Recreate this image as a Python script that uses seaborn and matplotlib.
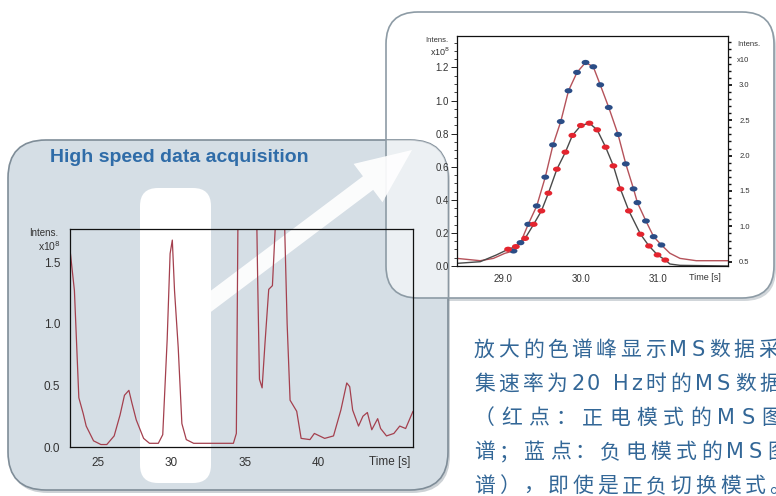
import matplotlib
matplotlib.use("Agg")
import matplotlib.pyplot as plt
import seaborn as sns
from matplotlib.patches import FancyBboxPatch, FancyArrow
from matplotlib.path import Path
from matplotlib.transforms import Affine2D
from matplotlib.ticker import MultipleLocator, FixedLocator, FormatStrFormatter

# Overview chromatogram (time [s], intensity x1e8)
tic_time = [23.13, 23.4, 23.7, 24.0, 24.2, 24.7, 25.2, 25.6, 26.1, 26.5, 26.8, 27.1,
            27.3, 27.6, 28.1, 28.5, 29.1, 29.4, 29.7, 29.9, 30.05, 30.2, 30.45, 30.7,
            31.0, 31.5, 32.8, 33.7, 34.2, 34.4, 34.55, 35.7, 35.85, 35.97, 36.15, 36.35,
            36.6, 36.85, 37.05, 37.15, 37.55, 37.7, 37.85, 38.05, 38.5, 38.8, 39.4, 39.7,
            40.05, 40.4, 41.0, 41.5, 41.9, 42.1, 42.3, 42.7, 43.0, 43.3, 43.6, 44.0,
            44.2, 44.6, 45.1, 45.5, 45.9, 46.4]
tic_int = [1.57, 1.27, 0.40, 0.27, 0.17, 0.05, 0.02, 0.02, 0.09, 0.26, 0.42, 0.46,
           0.36, 0.22, 0.07, 0.03, 0.03, 0.10, 0.87, 1.57, 1.68, 1.27, 0.81, 0.19,
           0.06, 0.03, 0.03, 0.03, 0.03, 0.11, 2.5, 2.5, 1.35, 0.55, 0.48, 0.85,
           1.28, 1.31, 1.8, 2.5, 2.5, 1.7, 1.0, 0.38, 0.29, 0.07, 0.06, 0.11,
           0.09, 0.07, 0.09, 0.30, 0.52, 0.49, 0.30, 0.17, 0.25, 0.28, 0.14, 0.23,
           0.15, 0.09, 0.11, 0.17, 0.15, 0.29]

# Zoomed peak: positive mode scans (red dots)
pos_time = [29.06, 29.16, 29.28, 29.39, 29.49, 29.58, 29.69, 29.80, 29.89, 30.00,
            30.11, 30.21, 30.32, 30.42, 30.51, 30.62, 30.77, 30.88, 30.99, 31.09]
pos_int = [0.101, 0.117, 0.167, 0.252, 0.333, 0.440, 0.585, 0.688, 0.789, 0.849,
           0.863, 0.823, 0.718, 0.605, 0.466, 0.333, 0.192, 0.121, 0.067, 0.036]
# negative mode scans (blue dots)
neg_time = [29.13, 29.22, 29.32, 29.43, 29.54, 29.64, 29.74, 29.84, 29.95, 30.06,
            30.16, 30.25, 30.36, 30.48, 30.58, 30.68, 30.73, 30.84, 30.94, 31.04]
neg_int = [0.091, 0.141, 0.252, 0.363, 0.537, 0.732, 0.873, 1.059, 1.170, 1.230,
           1.204, 1.095, 0.958, 0.795, 0.617, 0.466, 0.383, 0.272, 0.177, 0.127]

# traces through the scans, tails
pos_line_time = [28.4, 28.7, 28.91] + pos_time + [31.15, 31.28, 31.9]
pos_line_int = [0.016, 0.026, 0.067] + pos_int + [0.012, 0.004, 0.0]
neg_line_time = [28.4, 28.7, 28.87, 29.02] + neg_time + [31.15, 31.28, 31.49, 31.9]
neg_line_int = [0.046, 0.032, 0.046, 0.077] + neg_int + [0.077, 0.046, 0.032, 0.032]

title = "High speed data acquisition"
caption = ["放大的色谱峰显示MS数据采",
           "集速率为20 Hz时的MS数据",
           "（红点：正电模式的MS图",
           "谱；蓝点：负电模式的MS图",
           "谱），即使是正负切换模式。"]

sns.set_style("white")
plt.rcParams["font.family"] = ["Liberation Sans", "DejaVu Sans"]

W, H = 776, 496


def box(x0, y0, x1, y1):
    return [x0 / W, 1 - y1 / H, (x1 - x0) / W, (y1 - y0) / H]


fig = plt.figure(figsize=(W / 100, H / 100), dpi=100)

# background layer in pixel coordinates
bg = fig.add_axes([0, 0, 1, 1], zorder=0)
bg.set_xlim(0, W)
bg.set_ylim(H, 0)
bg.axis("off")

panel_col = "#d5dee5"
edge_col = "#7f8d98"
rp_xy, rp_w, rp_h, rp_r = (386, 12), 388, 286, "round,pad=0,rounding_size=32"

# right panel (behind the left one)
bg.add_patch(FancyBboxPatch((388, 15), rp_w, rp_h, boxstyle=rp_r,
                            fc="#9aa5ad", ec="none", alpha=0.45, zorder=0.5))
bg.add_patch(FancyBboxPatch(rp_xy, rp_w, rp_h, boxstyle=rp_r,
                            fc="white", ec="none", zorder=0.6))
# left panel + shadow
bg.add_patch(FancyBboxPatch((10, 143), 440, 350, boxstyle="round,pad=0,rounding_size=38",
                            fc="#8e99a2", ec="none", alpha=0.45, zorder=1))
lp = FancyBboxPatch((8, 140), 440, 350, boxstyle="round,pad=0,rounding_size=38",
                    fc=panel_col, ec=edge_col, lw=1.2, zorder=2)
bg.add_patch(lp)
# white highlight bar
bg.add_patch(FancyBboxPatch((140, 188), 71, 295, boxstyle="round,pad=0,rounding_size=18",
                            fc="white", ec="none", zorder=3))
# right panel shows through the left one where they overlap
ov = FancyBboxPatch(rp_xy, rp_w, rp_h, boxstyle=rp_r, fc="white", ec="none",
                    alpha=0.55, zorder=4)
bg.add_patch(ov)
ov.set_clip_path(lp)
bg.add_patch(FancyBboxPatch(rp_xy, rp_w, rp_h, boxstyle=rp_r,
                            fc="none", ec="#8d9ba5", lw=1.2, zorder=4.1))
# arrow
bg.add_patch(FancyArrow(190, 317, 222, -167, width=17, head_width=48, head_length=55,
                        length_includes_head=True, fc="white", ec="none", alpha=0.92, zorder=5))

bg.text(50, 158, title, color="#2f6ca8", fontsize=14, fontweight="bold",
        va="center", ha="left", zorder=10)

# caption, set with the wide tracking of the original
cap_family = ["DejaVu Sans", "Noto Sans CJK SC"]
cap_pitch = [24.4, 24.4, 27.0, 25.2, 24.6]
adv = {"M": 0.9, "S": 0.75, "2": 0.62, "0": 0.62, " ": 0.45, "H": 0.75, "z": 0.6}
for i, line in enumerate(caption):
    x = 474
    for ch in line:
        bg.text(x, 350 + i * 34, ch, family=cap_family, fontsize=15, color="#336797",
                va="center", ha="left", zorder=10)
        x += cap_pitch[i] * adv.get(ch, 1.0)

lab_col = "#333333"

# ---- left chart: full chromatogram
ax_l = fig.add_axes(box(70, 229, 413, 447), zorder=3)
ax_l.set_facecolor("none")
sns.lineplot(x=tic_time, y=tic_int, ax=ax_l, color="#a4404e", lw=0.9,
             sort=False, estimator=None)
ax_l.set_xlim(23.1, 46.4)
ax_l.set_ylim(0, 1.77)
ax_l.set_xticks([25, 30, 35, 40])
ax_l.set_yticks([0, 0.5, 1.0, 1.5])
ax_l.yaxis.set_major_formatter(FormatStrFormatter("%.1f"))
ax_l.xaxis.set_minor_locator(MultipleLocator(1))
ax_l.yaxis.set_minor_locator(MultipleLocator(0.1))
ax_l.tick_params(which="major", length=5, width=0.7, colors="#222", labelsize=8.5,
                 labelcolor=lab_col, direction="out", pad=2)
ax_l.tick_params(which="minor", length=3, width=0.6, colors="#222", direction="out")
for s in ax_l.spines.values():
    s.set_color("#111")
    s.set_linewidth(0.9)
ax_l.set_xlabel("")
ax_l.set_ylabel("")
ax_l.text(44.8, -0.07, "Time [s]", fontsize=8.5, color=lab_col, ha="center", va="top",
          clip_on=False)
bg.text(44, 233, "Intens.", fontsize=7, color=lab_col, ha="center", va="center", zorder=10)
bg.text(49, 246, "x10$^8$", fontsize=7.5, color=lab_col, ha="center", va="center", zorder=10)

# ---- right chart: zoomed peak
ax_r = fig.add_axes(box(457, 36, 728, 266), zorder=2)
ax_r.set_facecolor("none")
sns.lineplot(x=neg_line_time, y=neg_line_int, ax=ax_r, color="#b5525a", lw=1.0,
             sort=False, estimator=None)
sns.lineplot(x=pos_line_time, y=pos_line_int, ax=ax_r, color="#4a4a4a", lw=1.0,
             sort=False, estimator=None)
ell = Path.unit_circle().transformed(Affine2D().scale(1.5, 1.0))
sns.scatterplot(x=neg_time, y=neg_int, ax=ax_r, marker=ell, s=32, color="#2b4d86",
                edgecolor="none", zorder=4)
sns.scatterplot(x=pos_time, y=pos_int, ax=ax_r, marker=ell, s=32, color="#e3252f",
                edgecolor="none", zorder=4)
ax_r.set_xlim(28.4, 31.9)
ax_r.set_ylim(0, 1.39)
ax_r.set_xticks([29, 30, 31])
ax_r.xaxis.set_major_formatter(FormatStrFormatter("%.1f"))
ax_r.set_yticks([0, 0.2, 0.4, 0.6, 0.8, 1.0, 1.2])
ax_r.yaxis.set_major_formatter(FormatStrFormatter("%.1f"))
ax_r.xaxis.set_minor_locator(MultipleLocator(0.2))
ax_r.yaxis.set_minor_locator(MultipleLocator(0.05))
ax_r.tick_params(which="major", length=4, width=0.7, colors="#222", labelsize=7,
                 labelcolor=lab_col, direction="out", pad=2)
ax_r.tick_params(which="minor", length=2.5, width=0.6, colors="#222", direction="out")
for s in ax_r.spines.values():
    s.set_color("#111")
    s.set_linewidth(0.9)
ax_r.set_xlabel("")
ax_r.set_ylabel("")
ax_r.text(31.6, -0.04, "Time [s]", fontsize=6.5, color=lab_col, ha="center", va="top",
          clip_on=False)

ax2 = ax_r.twinx()
ax2.set_ylim(0.44, 3.69)
ax2.yaxis.set_major_locator(FixedLocator([0.5, 1.0, 1.5, 2.0, 2.5, 3.0]))
ax2.yaxis.set_minor_locator(MultipleLocator(0.1))
ax2.yaxis.set_major_formatter(FormatStrFormatter("%.1f"))
ax2.tick_params(which="major", length=3, width=1.3, colors="#111", labelsize=5.5,
                labelcolor=lab_col, direction="out", pad=5)
ax2.tick_params(which="minor", length=2, width=1.0, colors="#111", direction="out")
for s in ax2.spines.values():
    s.set_visible(False)

bg.text(437, 41, "Intens.", fontsize=5.5, color=lab_col, ha="center", va="center", zorder=10)
bg.text(440, 52, "x10$^8$", fontsize=6.5, color=lab_col, ha="center", va="center", zorder=10)
bg.text(749, 44, "Intens.", fontsize=5.5, color=lab_col, ha="center", va="center", zorder=10)
bg.text(743, 60, "x10", fontsize=5.5, color=lab_col, ha="center", va="center", zorder=10)

fig.savefig("out.png", dpi=100)
